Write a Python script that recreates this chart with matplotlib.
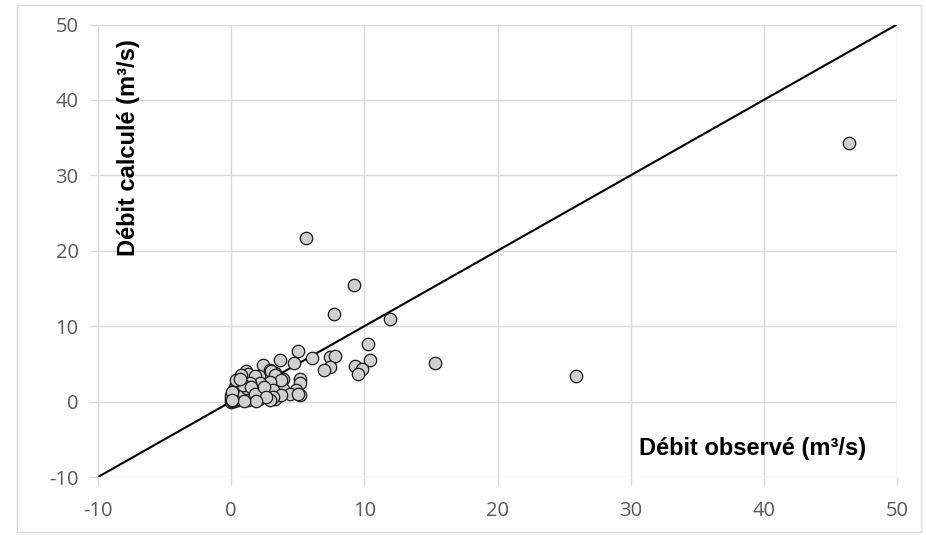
import matplotlib
matplotlib.use("Agg")
import matplotlib.pyplot as plt
from matplotlib.patches import Rectangle
from matplotlib.ticker import FuncFormatter

# Observed vs computed discharge (m3/s)
obs = [46.4, 25.9, 15.3, 5.6, 9.2, 7.7, 11.9, 10.3, 10.4, 9.3, 9.85, 9.5,
       5.0, 6.1, 7.45, 7.8, 7.45, 7.0, 4.7, 3.7, 2.4, 5.2, 5.15, 4.85, 5.15,
       1.1, 2.9, 3.3, 3.9, 2.1, 3.6, 3.9, 3.1, 3.3, 2.1, 1.4,
       1.26, 0.77, 1.76, 3.0, 3.27, 3.77, 2.9, 2.14, 1.39, 0.64, 0.26, 0.89,
       1.64, 2.39, 3.14, 4.4, 5.0, 3.77, 3.14, 1.26, 0.51, 0.01, 0.14, 0.0,
       0.64, 2.9,
       0.05, 0.1, 0.2, 0.3, 0.4, 0.15, 0.6, 0.8, 0.5, 0.3, 1.0, 1.2, 0.9,
       0.4, 0.7, 1.5, 1.8, 2.5, 2.6, 1.9, 1.0, 0.0, 0.1, 0.05]
calc = [34.3, 3.4, 5.1, 21.7, 15.5, 11.6, 10.9, 7.6, 5.5, 4.7, 4.3, 3.7,
        6.7, 5.8, 5.9, 6.0, 4.6, 4.15, 5.1, 5.5, 4.9, 3.05, 2.5, 1.5, 0.84,
        4.0, 4.2, 3.8, 3.05, 3.35, 2.4, 1.7, 0.83, 0.4, 0.4, 0.83,
        3.7, 3.5, 3.35, 4.05, 3.5, 2.8, 2.6, 2.4, 2.4, 2.6, 1.94, 1.5,
        1.5, 1.27, 1.5, 1.06, 1.06, 0.84, 0.61, 0.27, 0.17, 0.4, 1.06, 0.0,
        1.06, 0.17,
        0.1, 0.3, 0.05, 0.5, 0.2, 0.7, 0.4, 0.8, 1.3, 1.5, 1.0, 1.8, 2.2,
        2.8, 3.0, 2.0, 1.0, 2.0, 0.6, 0.1, 0.05, 0.7, 1.3, 0.2]

ticks = [-10, 0, 10, 20, 30, 40, 50]
xlabel = "Débit observé (m³/s)"
ylabel = "Débit calculé (m³/s)"

fig = plt.figure(figsize=(9.26, 5.35), dpi=100)
fig.patches.append(Rectangle((17/926, 3/535), (921-17)/926, (530-3)/535,
                             transform=fig.transFigure, fill=False,
                             edgecolor="#d9d9d9", linewidth=1.0))
ax = fig.add_axes([98/926, 1-477/535, (897-98)/926, (477-24.5)/535])

grid_c = "#d9d9d9"
ax.set_xlim(-10, 50)
ax.set_ylim(-10, 50)
ax.set_xticks(ticks)
ax.set_yticks(ticks)
fmt = FuncFormatter(lambda v, p: "%d" % v)
ax.xaxis.set_major_formatter(fmt)
ax.yaxis.set_major_formatter(fmt)
ax.grid(True, color=grid_c, linewidth=1.0, zorder=0)
for s in ax.spines.values():
    s.set_visible(False)
ax.tick_params(axis="both", length=6, width=1.0, color=grid_c,
               labelcolor="#595959", labelsize=14.5)
ax.tick_params(axis="x", pad=11)
ax.tick_params(axis="y", pad=8)
for lab in ax.get_xticklabels() + ax.get_yticklabels():
    lab.set_family("Open Sans")

ax.plot([-10, 50], [-10, 50], color="black", linewidth=1.5, zorder=2)
ax.scatter(obs, calc, s=80, facecolor="#d0d0d0", edgecolor="#1a1a1a",
           linewidth=0.9, zorder=3, clip_on=False)

fig.text(753/926, 1-448/535, xlabel, ha="center", va="center",
         fontsize=17, fontweight="bold", family="Liberation Sans")
fig.text(128/926, 1-148/535, ylabel, ha="center", va="center", rotation=90,
         fontsize=17, fontweight="bold", family="Liberation Sans")

fig.savefig("out.png", dpi=100)
